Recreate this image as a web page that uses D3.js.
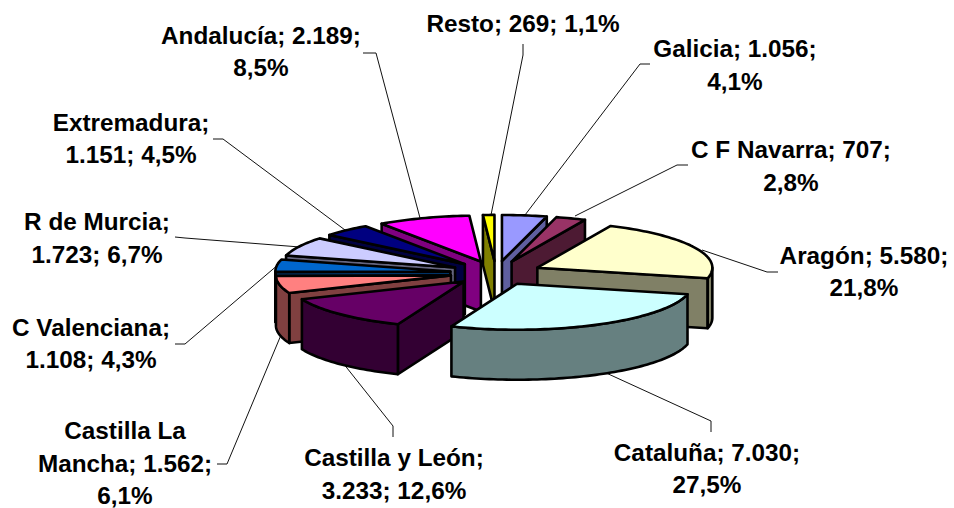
<!DOCTYPE html>
<html><head><meta charset="utf-8">
<script src="https://cdnjs.cloudflare.com/ajax/libs/d3/7.8.5/d3.min.js"></script>
<style>html,body{margin:0;padding:0;background:#fff}svg{display:block}text{font-family:"Liberation Sans",Arial,sans-serif;font-weight:bold;font-size:24.3px;fill:#000;text-anchor:middle}</style>
</head><body><svg id="c" width="954" height="508"></svg>
<script>
const categories=["Galicia","C F Navarra","Aragón","Cataluña","Castilla y León","Castilla La Mancha","C Valenciana","R de Murcia","Extremadura","Andalucía","Resto"];
const values=[1056,707,5580,7030,3233,1562,1108,1723,1151,2189,269];
const percents=["4,1%","2,8%","21,8%","27,5%","12,6%","6,1%","4,3%","6,7%","4,5%","8,5%","1,1%"];
const topColors=["#9999FF","#993366","#FFFFCC","#CCFFFF","#660066","#FF8080","#0066CC","#CCCCFF","#000080","#FF00FF","#FFFF00"];
const wallColors=["#5F5F9F","#4D1A33","#808066","#668080","#330033","#804040","#003366","#666680","#000040","#800080","#808000"];
const labelLines=[
 ["Galicia; 1.056;","4,1%"],["C F Navarra; 707;","2,8%"],["Aragón; 5.580;","21,8%"],["Cataluña; 7.030;","27,5%"],
 ["Castilla y León;","3.233; 12,6%"],["Castilla La","Mancha; 1.562;","6,1%"],["C Valenciana;","1.108; 4,3%"],["R de Murcia;","1.723; 6,7%"],
 ["Extremadura;","1.151; 4,5%"],["Andalucía; 2.189;","8,5%"],["Resto; 269; 1,1%"]];
const labelX=[735,791,864,707,394,125,91,97,131,261,523];
const labelY=[57,158,264,461,466,439,336,230,131,44,32];
const lineStep=[33,33,32,32,33,32.5,32,33,32,32,0];
const leaderFrom=[[650,64,640,64],[688,165,677,165],[778,272,767,272],[711,432,711,421],[393,437,393,426],[217,464,227,464],[175,344,185,344],[175,237,185,238],[213,139,223,139],[363,53,376,53],[523,44,523,55]];
const leaderTo=[[525,215],[575,216],[702,250],[604,372],[343,363],[281,335],[279,264],[300,247],[345,230],[420,218],[491,215]];

const svg=d3.select("#c");
const cx=496,cy=273,rx=175,ry=46,depth=50,explode=46/175;
const X=d3.scaleLinear().domain([-1,1]).range([cx-rx,cx+rx]);
const Y=d3.scaleLinear().domain([-1,1]).range([cy-ry,cy+ry]);
const arcs=d3.pie().sort(null).value(d=>d)(values);
const line=d3.line();
function pt(a,r,ox,oy,dz){return [X(r*Math.sin(a)+ox),Y(-r*Math.cos(a)+oy)+dz];}
const order=arcs.map((a,i)=>i).sort((p,q)=>{
  const f=k=>-Math.cos((arcs[k].startAngle+arcs[k].endAngle)/2);return d3.ascending(f(p),f(q));});
const g=svg.append("g").attr("stroke","#000").attr("stroke-width",2.6).attr("stroke-linejoin","round");
const lg=svg.insert("g","g").attr("stroke","#111").attr("stroke-width",1).attr("fill","none");
leaderFrom.forEach((f,i)=>{
  const pts=[];for(let k=0;k<f.length;k+=2)pts.push([f[k],f[k+1]]);pts.push(leaderTo[i]);
  lg.append("path").attr("d",line(pts));
});
order.forEach(i=>{
  const a0=arcs[i].startAngle,a1=arcs[i].endAngle,m=(a0+a1)/2;
  const ox=explode*Math.sin(m),oy=-explode*Math.cos(m);
  const apex=pt(0,0,ox,oy,0),apexB=pt(0,0,ox,oy,depth);
  if(Math.sin(a1)>0){const p=pt(a1,1,ox,oy,0),pb=pt(a1,1,ox,oy,depth);
    g.append("path").attr("fill",wallColors[i]).attr("d",line([apex,p,pb,apexB])+"Z");}
  if(Math.sin(a0)<0){const p=pt(a0,1,ox,oy,0),pb=pt(a0,1,ox,oy,depth);
    g.append("path").attr("fill",wallColors[i]).attr("d",line([apex,p,pb,apexB])+"Z");}
  const lo=Math.max(a0,Math.PI/2),hi=Math.min(a1,Math.PI*1.5);
  if(hi>lo){
    const n=Math.ceil((hi-lo)*40);
    const t=d3.range(n+1).map(k=>lo+(hi-lo)*k/n);
    const pts=t.map(a=>pt(a,1,ox,oy,0)).concat(t.slice().reverse().map(a=>pt(a,1,ox,oy,depth)));
    g.append("path").attr("fill",wallColors[i]).attr("d",line(pts)+"Z");
  }
  const n=Math.ceil((a1-a0)*40)+1;
  const top=[apex].concat(d3.range(n+1).map(k=>pt(a0+(a1-a0)*k/n,1,ox,oy,0)));
  g.append("path").attr("fill",topColors[i]).attr("d",line(top)+"Z");
});
labelLines.forEach((ls,i)=>{
  const t=svg.append("text").attr("y",labelY[i]);
  ls.forEach((s,k)=>t.append("tspan").attr("x",labelX[i]).attr("y",labelY[i]+k*lineStep[i]).text(s));
});
</script></body></html>
